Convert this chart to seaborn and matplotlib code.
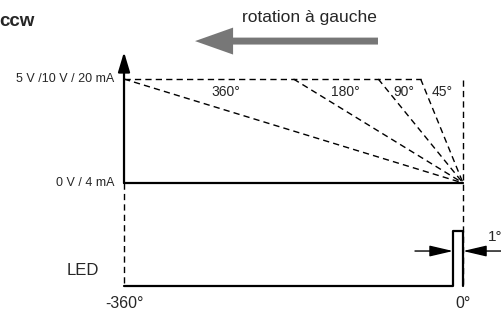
import matplotlib
matplotlib.use("Agg")
import matplotlib.pyplot as plt
import seaborn as sns
import pandas as pd

sns.set_theme(style="white")
plt.rcParams['font.family'] = ['Liberation Sans', 'DejaVu Sans']

# data (x in degrees of rotation, y in signal levels: 0 = 0 V / 4 mA, 1 = 5 V / 10 V / 20 mA)
angles = [360, 180, 90, 45]
angle_labels = ["360°", "180°", "90°", "45°"]
angle_label_x = [-252, -125, -63, -22]
output_x = [-360, 0]
output_y = [0, 0]
led_x = [-360, -10.6, -10.6, 0, 0]
led_y = [-0.99, -0.99, -0.46, -0.46, -0.99]
level_labels = ["0 V / 4 mA", "5 V /10 V / 20 mA"]
level_y = [0, 1]
x_tick_labels = ["-360°", "0°"]
x_tick_pos = [-360, 0]

fig = plt.figure(figsize=(5.02, 3.13), dpi=100)
ax = fig.add_axes([0, 0, 1, 1])
ax.set_xlim(-491.7, 41.4)
ax.set_ylim(-1.25, 1.76)
ax.axis("off")

dash = (4.5, 3)

# dashed output lines for each rotation range
ax.plot([-360, -45], [1, 1], color="black", lw=1, dashes=dash)
for a in angles:
    ax.plot([-a, 0], [1, 0], color="black", lw=1, dashes=dash)
for a, lab, lx in zip(angles, angle_labels, angle_label_x):
    ax.text(lx, 0.875, lab, ha="center", va="center", fontsize=10)

# vertical reference dashed lines
ax.plot([0, 0], [0.99, -0.99], color="black", lw=1, dashes=dash)
ax.plot([-360, -360], [0, -0.99], color="black", lw=1, dashes=dash)

# solid output line at 0 V and the LED signal
df_out = pd.DataFrame({"x": output_x, "y": output_y})
sns.lineplot(data=df_out, x="x", y="y", ax=ax, color="black", lw=1.6,
             sort=False, estimator=None)
df_led = pd.DataFrame({"x": led_x, "y": led_y})
sns.lineplot(data=df_led, x="x", y="y", ax=ax, color="black", lw=1.6,
             sort=False, estimator=None)

# y axis arrow
ax.annotate("", xy=(-360, 1.26), xytext=(-360, 0),
            arrowprops=dict(arrowstyle="-|>,head_width=0.3,head_length=1.0",
                            color="black", lw=1.6, shrinkA=0, shrinkB=0))

# pulse width arrows
ax.annotate("", xy=(-10.6, -0.654), xytext=(-51, -0.654),
            arrowprops=dict(arrowstyle="-|>,head_width=0.28,head_length=1.2",
                            color="black", lw=1, shrinkA=0, shrinkB=0))
ax.annotate("", xy=(0, -0.654), xytext=(45, -0.654),
            arrowprops=dict(arrowstyle="-|>,head_width=0.28,head_length=1.2",
                            color="black", lw=1, shrinkA=0, shrinkB=0))
ax.text(34, -0.52, "1°", ha="center", va="center", fontsize=11)

# level labels
for lab, ly in zip(level_labels, level_y):
    ax.text(-370.6, ly, lab, ha="right", va="center", fontsize=9)
ax.text(-403.5, -0.837, "LED", ha="center", va="center", fontsize=12)
for lab, tx in zip(x_tick_labels, x_tick_pos):
    ax.text(tx, -1.154, lab, ha="center", va="center", fontsize=11.5)

# direction of rotation
ax.text(-454.5, 1.55, "ccw", ha="right", va="center", fontsize=13.5, fontweight="bold")
ax.text(-163.5, 1.59, "rotation à gauche", ha="center", va="center", fontsize=12.5)
ax.annotate("", xy=(-284.6, 1.365), xytext=(-90.3, 1.365),
            arrowprops=dict(arrowstyle="simple,head_width=0.97,head_length=1.37,tail_width=0.25",
                            mutation_scale=20, color="#777777", lw=0, shrinkA=0, shrinkB=0))

fig.savefig("out.png", dpi=100)
